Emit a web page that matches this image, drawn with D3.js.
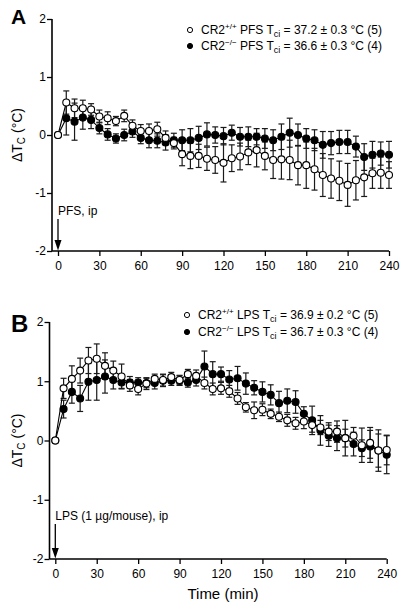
<!DOCTYPE html>
<html>
<head>
<meta charset="utf-8">
<script src="https://cdn.jsdelivr.net/npm/d3@7"></script>
<style>
  html, body { margin: 0; padding: 0; background: #fff; }
  svg { display: block; font-family: "Liberation Sans", Arial, Helvetica, sans-serif; }
</style>
</head>
<body>
<svg id="chart" width="400" height="606"></svg>
<script>
// ---------- data ----------
const timeMin = [0,6,12,18,24,30,36,42,48,54,60,66,72,78,84,90,96,102,108,114,120,
  126,132,138,144,150,156,162,168,174,180,186,192,198,204,210,216,222,228,234,240];
const xTicks = [0,30,60,90,120,150,180,210,240];
const yTicks = [-2,-1,0,1,2];

// Panel A: PFS
const pfsWT = [0,0.56,0.46,0.46,0.44,0.32,0.29,0.24,0.33,0.16,0.07,0.07,0.10,-0.05,-0.14,-0.33,-0.36,-0.36,-0.41,-0.43,
  -0.48,-0.40,-0.37,-0.30,-0.26,-0.36,-0.43,-0.42,-0.43,-0.52,-0.52,-0.59,-0.69,-0.75,-0.79,-0.86,-0.78,-0.73,-0.66,-0.65,-0.69];
const pfsWTse = [0,0.20,0.16,0.14,0.10,0.11,0.11,0.08,0.10,0.10,0.11,0.12,0.12,0.12,0.10,0.20,0.22,0.20,0.20,0.23,
  0.33,0.23,0.23,0.21,0.29,0.24,0.32,0.34,0.34,0.34,0.40,0.36,0.37,0.34,0.34,0.37,0.34,0.33,0.26,0.27,0.23];
const pfsKO = [0,0.29,0.23,0.30,0.26,0.12,0.01,-0.06,0.00,0.06,-0.05,-0.09,-0.10,-0.13,-0.09,-0.09,-0.09,-0.05,0.01,0.00,
  -0.02,0.04,-0.03,-0.03,-0.03,-0.06,-0.09,-0.03,0.04,0.00,-0.06,-0.09,-0.17,-0.14,-0.12,-0.12,-0.20,-0.38,-0.34,-0.32,-0.34];
const pfsKOse = [0,0.29,0.32,0.20,0.15,0.10,0.10,0.08,0.10,0.10,0.10,0.13,0.12,0.13,0.12,0.18,0.20,0.20,0.20,0.14,
  0.15,0.13,0.16,0.17,0.14,0.17,0.18,0.22,0.25,0.19,0.17,0.18,0.23,0.20,0.20,0.20,0.18,0.23,0.23,0.20,0.23];

// Panel B: LPS
const lpsWT = [0,0.88,1.04,1.18,1.35,1.38,1.26,1.18,1.08,0.93,0.87,0.96,1.04,1.02,1.07,1.02,1.12,1.09,0.97,0.87,
  0.88,0.83,0.71,0.56,0.51,0.52,0.45,0.40,0.34,0.29,0.32,0.26,0.22,0.15,0.15,0.04,0.08,-0.08,-0.04,-0.17,-0.16];
const lpsWTse = [0,0.17,0.22,0.21,0.22,0.25,0.22,0.16,0.21,0.10,0.10,0.10,0.08,0.10,0.08,0.08,0.08,0.10,0.10,0.10,
  0.10,0.10,0.10,0.08,0.14,0.10,0.08,0.08,0.10,0.10,0.12,0.12,0.12,0.15,0.18,0.30,0.14,0.29,0.26,0.28,0.25];
const lpsKO = [0,0.53,0.82,0.71,0.99,1.02,1.08,1.02,0.98,0.98,0.98,0.97,0.97,1.01,1.01,1.01,0.98,1.02,1.25,1.12,
  1.12,1.03,1.05,0.96,0.89,0.82,0.77,0.63,0.67,0.65,0.45,0.34,0.17,0.08,0.04,0.04,-0.06,-0.13,-0.10,-0.17,-0.24];
const lpsKOse = [0,0.15,0.19,0.22,0.31,0.34,0.28,0.15,0.10,0.10,0.08,0.08,0.10,0.10,0.08,0.08,0.08,0.10,0.26,0.21,
  0.12,0.15,0.20,0.18,0.12,0.17,0.17,0.20,0.20,0.19,0.12,0.24,0.25,0.18,0.21,0.15,0.20,0.14,0.27,0.35,0.32];

const legendA = [
  {open: true,  geno: "+/+", agent: "PFS", val: "37.2 ± 0.3 °C (5)"},
  {open: false, geno: "\u2212/\u2212", agent: "PFS", val: "36.6 ± 0.3 °C (4)"}
];
const legendB = [
  {open: true,  geno: "+/+", agent: "LPS", val: "36.9 ± 0.2 °C (5)"},
  {open: false, geno: "\u2212/\u2212", agent: "LPS", val: "36.7 ± 0.3 °C (4)"}
];

// ---------- drawing ----------
const svg = d3.select("#chart");

function drawPanel(cfg) {
  const g = svg.append("g");
  const x = d3.scaleLinear().domain([0, 240]).range([cfg.x0, cfg.x1]);
  const y = d3.scaleLinear().domain([-2, 2]).range([cfg.yBot, cfg.yTop]);

  // y axis
  const ya = g.append("g").attr("transform", `translate(${cfg.axisX},0)`)
    .call(d3.axisLeft(y).tickValues(yTicks).tickSize(5).tickSizeOuter(0).tickFormat(d => String(d)));
  ya.select(".domain").remove();
  ya.selectAll("line").attr("stroke", "#000").attr("stroke-width", 1.3);
  ya.selectAll("text").attr("font-size", 12).attr("fill", "#000")
    .attr("font-family", "'Liberation Sans', Arial, sans-serif").attr("x", -6);
  g.append("line").attr("x1", cfg.axisX).attr("x2", cfg.axisX)
    .attr("y1", y(2)).attr("y2", y(-2)).attr("stroke", "#000").attr("stroke-width", 1.6);

  // x axis
  const xa = g.append("g").attr("transform", `translate(0,${y(-2)})`)
    .call(d3.axisBottom(x).tickValues(xTicks).tickSize(5).tickSizeOuter(0).tickFormat(d => String(d)));
  xa.select(".domain").remove();
  xa.selectAll("line").attr("stroke", "#000").attr("stroke-width", 1.3);
  xa.selectAll("text").attr("font-size", 12).attr("fill", "#000")
    .attr("font-family", "'Liberation Sans', Arial, sans-serif").attr("y", 10);
  g.append("line").attr("x1", cfg.axisX).attr("x2", x(240))
    .attr("y1", y(-2)).attr("y2", y(-2)).attr("stroke", "#000").attr("stroke-width", 1.6);

  // y label
  const yl = g.append("text")
    .attr("transform", `translate(22,${y(0)}) rotate(-90)`)
    .attr("text-anchor", "middle").attr("font-size", 14).attr("fill", "#000");
  yl.append("tspan").text("\u0394T");
  yl.append("tspan").attr("font-size", 10).attr("dy", 3).text("C");
  yl.append("tspan").attr("dy", -3).text(" (°C)");

  // panel letter
  g.append("text").attr("x", 11).attr("y", cfg.letterY).attr("font-size", cfg.letterSize)
    .attr("font-weight", "bold").attr("fill", "#000").text(cfg.letter);

  // annotation + arrow
  g.append("text").attr("x", x(0)).attr("y", cfg.annY).attr("font-size", 12).attr("fill", "#000").text(cfg.ann);
  g.append("line").attr("x1", x(0)).attr("x2", x(0))
    .attr("y1", cfg.annY + 4).attr("y2", y(-2) - 8).attr("stroke", "#000").attr("stroke-width", 1.3);
  g.append("path")
    .attr("d", `M${x(0) - 3.5},${y(-2) - 11} L${x(0) + 3.5},${y(-2) - 11} L${x(0)},${y(-2) - 0.5} Z`)
    .attr("fill", "#000");

  const series = [
    {vals: cfg.ko, se: cfg.koSe, open: false},
    {vals: cfg.wt, se: cfg.wtSe, open: true}
  ];

  // error bars
  series.forEach(s => {
    const eb = g.append("g").attr("stroke", "#1a1a1a").attr("stroke-width", 1.2);
    timeMin.forEach((t, i) => {
      if (s.se[i] <= 0) return;
      const cx = x(t), lo = y(s.vals[i] - s.se[i]), hi = y(s.vals[i] + s.se[i]);
      eb.append("line").attr("x1", cx).attr("x2", cx).attr("y1", lo).attr("y2", hi);
      eb.append("line").attr("x1", cx - 3).attr("x2", cx + 3).attr("y1", lo).attr("y2", lo);
      eb.append("line").attr("x1", cx - 3).attr("x2", cx + 3).attr("y1", hi).attr("y2", hi);
    });
  });

  // lines
  const line = d3.line().x((d, i) => x(timeMin[i])).y(d => y(d));
  series.forEach(s => {
    g.append("path").datum(s.vals).attr("d", line)
      .attr("fill", "none").attr("stroke", "#000").attr("stroke-width", 1.1);
  });

  // markers
  series.forEach(s => {
    g.append("g").selectAll("circle").data(s.vals).join("circle")
      .attr("cx", (d, i) => x(timeMin[i])).attr("cy", d => y(d)).attr("r", 3.5)
      .attr("fill", s.open ? "#fff" : "#000").attr("stroke", "#000").attr("stroke-width", 1.1);
  });

  // legend
  cfg.legend.forEach((L, i) => {
    const ly = cfg.legY + i * cfg.legGap;
    g.append("circle").attr("cx", cfg.legX).attr("cy", ly - 4).attr("r", 2.6)
      .attr("fill", L.open ? "#fff" : "#000").attr("stroke", "#000").attr("stroke-width", 1);
    const t = g.append("text").attr("x", cfg.legX + 11).attr("y", ly).attr("font-size", 12).attr("fill", "#000");
    t.append("tspan").text("CR2");
    t.append("tspan").attr("font-size", 8).attr("dy", -5).text(L.geno);
    t.append("tspan").attr("dy", 5).text(" " + L.agent + " T");
    t.append("tspan").attr("font-size", 9).attr("dy", 3).text("ci");
    t.append("tspan").attr("dy", -3).text(" = " + L.val);
  });
}

drawPanel({
  x0: 58, x1: 389, axisX: 52, yTop: 19, yBot: 251,
  wt: pfsWT, wtSe: pfsWTse, ko: pfsKO, koSe: pfsKOse,
  letter: "A", letterY: 24, letterSize: 21,
  ann: "PFS, ip", annY: 215,
  legend: legendA, legX: 190, legY: 34, legGap: 16
});

drawPanel({
  x0: 55.3, x1: 386.7, axisX: 49.5, yTop: 322, yBot: 559,
  wt: lpsWT, wtSe: lpsWTse, ko: lpsKO, koSe: lpsKOse,
  letter: "B", letterY: 332, letterSize: 24,
  ann: "LPS (1 \u00b5g/mouse), ip", annY: 520,
  legend: legendB, legX: 187, legY: 319, legGap: 17
});

svg.append("text").attr("x", 223).attr("y", 599).attr("text-anchor", "middle")
  .attr("font-size", 15).attr("fill", "#000").text("Time (min)");
</script>
</body>
</html>
